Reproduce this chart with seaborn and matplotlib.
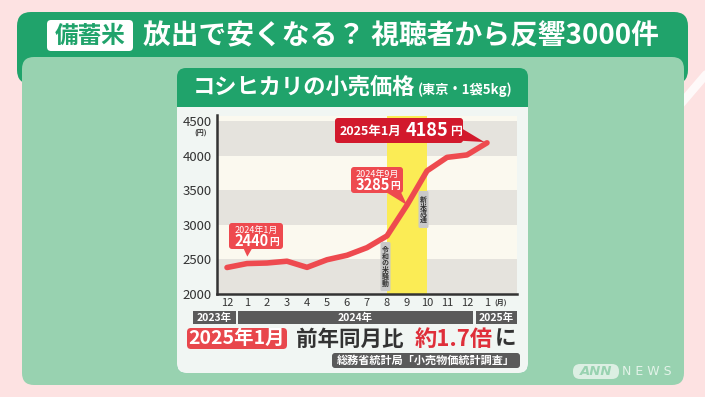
import matplotlib
matplotlib.use("Agg")
import matplotlib.pyplot as plt
import seaborn as sns
import pandas as pd
from matplotlib.patches import FancyBboxPatch, Rectangle

# データ（東京・コシヒカリ 5kg 小売価格）
month_labels = ["12", "1", "2", "3", "4", "5", "6", "7", "8", "9", "10", "11", "12", "1"]
prices = [2383, 2440, 2448, 2474, 2385, 2495, 2560, 2670, 2840, 3285, 3780, 3975, 4010, 4185]
y_ticks = [2000, 2500, 3000, 3500, 4000, 4500]
year_labels = ["2023年", "2024年", "2025年"]

sns.set_style("white")
plt.rcParams['font.family'] = ['Noto Sans CJK JP', 'DejaVu Sans']

PINK = "#fde2e2"
DGREEN = "#20a36b"
LGREEN = "#98d2b0"
CARD = "#f1f6f3"
RED = "#ee4a4f"
DRED = "#d2192c"
DARK = "#333333"
GRAYBOX = "#5a5a5a"


def box(a, x0, y0, x1, y1, color, r=3, z=1):
    if r == 0:
        p = Rectangle((x0, y0), x1 - x0, y1 - y0, fc=color, ec="none", zorder=z)
    else:
        p = FancyBboxPatch((x0, y0), x1 - x0, y1 - y0,
                           boxstyle=f"round,pad=0,rounding_size={r}",
                           fc=color, ec="none", zorder=z)
    a.add_patch(p)


def txt(a, x, y, s, size, color, weight="bold", ha="center", **kw):
    a.text(x, y, s, fontsize=size, color=color, fontweight=weight,
           ha=ha, va="center", **kw)


fig = plt.figure(figsize=(7.05, 3.97), dpi=100)
fig.patch.set_facecolor(PINK)

# 背景レイヤー（ピクセル座標）
bg = fig.add_axes([0, 0, 1, 1], zorder=0)
bg.set_xlim(0, 705)
bg.set_ylim(397, 0)
bg.axis("off")
bg.plot([650, 720], [140, 58], color="white", lw=6, alpha=0.8, zorder=0)
box(bg, 17, 12, 688, 84, DGREEN, r=14)
box(bg, 22, 57, 684, 385, LGREEN, r=12, z=2)
box(bg, 47, 20, 133, 51, "white", r=4, z=3)
txt(bg, 90, 36, "備蓄米", 17, DGREEN, zorder=4)
txt(bg, 143, 36, "放出で安くなる？ 視聴者から反響3000件", 20, "white",
    ha="left", zorder=4)

# カード
box(bg, 177, 68, 528, 373, DGREEN, r=9, z=3)
box(bg, 177, 107, 528, 373, CARD, r=9, z=4)
box(bg, 177, 107, 528, 125, CARD, r=0, z=4)
txt(bg, 193, 87, "コシヒカリの小売価格", 16, "white", ha="left", zorder=5)
txt(bg, 418, 90, "(東京・1袋5kg)", 9.5, "white", ha="left", zorder=5)

# グラフ本体
ax = fig.add_axes([217 / 705, 1 - 294 / 397, 300 / 705, 178.5 / 397], zorder=2)
ax.set_facecolor("#fbf9ef")
for lo in [2000, 3000, 4000]:
    ax.axhspan(lo, lo + 500, color="#e5e3dd", lw=0, zorder=0)
ax.axvspan(8, 10, color="#fbec55", lw=0, zorder=1)

df = pd.DataFrame({"idx": range(len(prices)), "price": prices})
sns.lineplot(data=df, x="idx", y="price", ax=ax, color=RED, lw=4, zorder=3)
ax.lines[-1].set_solid_capstyle("round")

ax.set_xlim(-0.5, 14.5)
ax.set_ylim(2000, 4580)
ax.set_xticks(range(len(month_labels)))
ax.set_xticklabels(month_labels)
ax.set_yticks(y_ticks)
ax.set_xlabel("")
ax.set_ylabel("")
for s in ["top", "right"]:
    ax.spines[s].set_visible(False)
for s in ["left", "bottom"]:
    ax.spines[s].set_color(DARK)
    ax.spines[s].set_linewidth(1.8)
ax.tick_params(axis="both", direction="in", length=4, width=1.4, color=DARK,
               labelcolor=DARK)
ax.tick_params(axis="x", labelsize=8, pad=3)
ax.tick_params(axis="y", labelsize=9.5, pad=4)

# 注記レイヤー
top = fig.add_axes([0, 0, 1, 1], zorder=3)
top.set_xlim(0, 705)
top.set_ylim(397, 0)
top.axis("off")

txt(top, 201, 133, "(円)", 5, DARK)
txt(top, 501, 302, "(月)", 5, DARK)

# 年の帯
box(top, 193, 311, 236, 324, GRAYBOX, r=0)
box(top, 238, 311, 473, 324, GRAYBOX, r=0)
box(top, 476, 311, 517, 324, GRAYBOX, r=0)
txt(top, 214.5, 317.5, year_labels[0], 7.5, "white")
txt(top, 355.5, 317.5, year_labels[1], 7.5, "white")
txt(top, 496.5, 317.5, year_labels[2], 7.5, "white")

# 縦書きラベル
box(top, 380.5, 242, 390.5, 291, "#c9c9c9", r=1.5)
txt(top, 385.5, 266.5, "\n".join("令和の米騒動"), 5, DARK, linespacing=0.95)
box(top, 418.5, 191, 428.5, 228, "#c9c9c9", r=1.5)
txt(top, 423.5, 209.5, "\n".join("新米流通"), 5, DARK, linespacing=0.95)

# 吹き出し
wedge = dict(arrowstyle="wedge,tail_width=0.5,shrink_factor=0.5", lw=0,
             mutation_scale=22)
top.annotate("", xy=(1, prices[1]), xycoords=ax.transData, xytext=(248, 242),
             textcoords="data", annotation_clip=False,
             arrowprops=dict(wedge, fc=RED, ec=RED, shrinkA=0, shrinkB=5))
box(top, 229, 223, 283, 249, RED, r=3)
txt(top, 256, 230, "2024年1月", 6.5, "white", weight="normal")
txt(top, 252, 241.5, "2440", 10.5, "white")
txt(top, 274, 242.5, "円", 7, "white")

top.annotate("", xy=(9, prices[9]), xycoords=ax.transData, xytext=(390, 186),
             textcoords="data", annotation_clip=False,
             arrowprops=dict(wedge, fc=RED, ec=RED, shrinkA=0, shrinkB=0))
box(top, 351, 167, 403, 193, RED, r=3)
txt(top, 377, 174, "2024年9月", 6.5, "white", weight="normal")
txt(top, 373, 185.5, "3285", 10.5, "white")
txt(top, 395, 186.5, "円", 7, "white")

top.annotate("", xy=(13, prices[13]), xycoords=ax.transData, xytext=(455, 133),
             textcoords="data", annotation_clip=False,
             arrowprops=dict(wedge, fc=DRED, ec=DRED, shrinkA=0, shrinkB=2))
box(top, 335, 118, 463, 143, DRED, r=3)
txt(top, 340, 131, "2025年1月", 9, "white", ha="left")
txt(top, 406, 130.5, "4185", 13, "white", ha="left")
txt(top, 450, 132, "円", 8.5, "white", ha="left")

# 下段
box(top, 187, 328, 287, 349, "#e8474c", r=4)
txt(top, 237, 338.5, "2025年1月", 14, "white")
txt(top, 296, 339, "前年同月比", 15.5, DARK, ha="left")
txt(top, 415, 339, "約1.7倍", 16, "#df2f3a", ha="left")
txt(top, 495, 339, "に", 15.5, DARK, ha="left")

box(top, 332, 353, 520, 368, GRAYBOX, r=3)
txt(top, 426, 360.5, "総務省統計局「小売物価統計調査」", 8, "white")

# ロゴ
box(top, 573, 364, 619, 379, "#dcefe3", r=7)
top.text(596, 371.5, "ANN", fontsize=9.5, color=LGREEN, fontweight="bold",
         style="italic", ha="center", va="center", family="DejaVu Sans")
top.text(647, 371.5, "N E W S", fontsize=9, color="#e3f3e9",
         ha="center", va="center", family="DejaVu Sans")

fig.savefig("out.png", dpi=100, facecolor=PINK)
